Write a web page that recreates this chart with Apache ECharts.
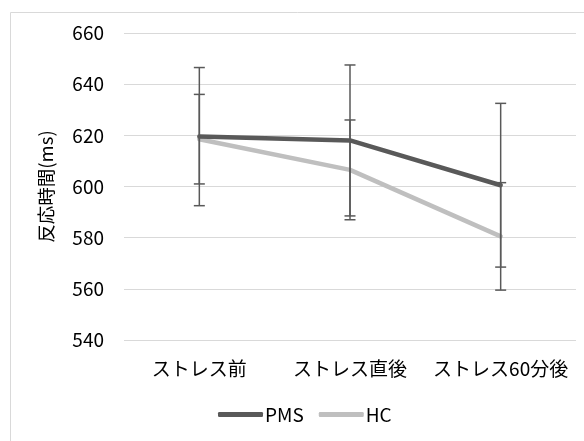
<!DOCTYPE html>
<html><head><meta charset="utf-8">
<script src="https://cdn.jsdelivr.net/npm/echarts@6/dist/echarts.min.js"></script>
<style>html,body{margin:0;padding:0;background:#fff}#c{width:584px;height:441px}</style>
</head><body><div id="c"></div>
<script>
const categories = ['ストレス前', 'ストレス直後', 'ストレス60分後'];
const pmsMean = [619.5, 618, 600.5];
const pmsSD = [27, 29.5, 32];
const hcMean = [618.5, 606.5, 580.5];
const hcSD = [17.5, 19.5, 21];
const yTicks = [540, 560, 580, 600, 620, 640, 660];

const FONT = '"Noto Sans CJK JP", "Noto Sans", sans-serif';
const chart = echarts.init(document.getElementById('c'));

function errData(mean, sd) { return mean.map((m, i) => [i, m - sd[i], m + sd[i]]); }
function errRender(params, api) {
  const x = api.value(0);
  const lo = api.coord([x, api.value(1)]);
  const hi = api.coord([x, api.value(2)]);
  const hw = 5.5;
  const st = { stroke: '#595959', lineWidth: 1.5 };
  return { type: 'group', children: [
    { type: 'line', shape: { x1: hi[0], y1: hi[1], x2: lo[0], y2: lo[1] }, style: st },
    { type: 'line', shape: { x1: hi[0] - hw, y1: hi[1], x2: hi[0] + hw, y2: hi[1] }, style: st },
    { type: 'line', shape: { x1: lo[0] - hw, y1: lo[1], x2: lo[0] + hw, y2: lo[1] }, style: st }
  ]};
}

chart.setOption({
  animation: false,
  graphic: [{ type: 'rect', shape: { x: 10.5, y: 12.5, width: 600, height: 500 }, style: { fill: 'none', stroke: '#d9d9d9', lineWidth: 1 }, silent: true }],
  grid: { left: 124, right: 8, top: 33, bottom: 101 },
  xAxis: {
    type: 'category', data: categories, boundaryGap: true,
    axisLine: { show: false }, axisTick: { show: false },
    axisLabel: { color: '#000', fontSize: 19, fontFamily: FONT, margin: 19, interval: 0, hideOverlap: false }
  },
  yAxis: {
    type: 'value', min: yTicks[0], max: yTicks[yTicks.length - 1], interval: 20,
    name: '反応時間(ms)', nameLocation: 'middle', nameGap: 69, nameRotate: 90,
    nameTextStyle: { color: '#000', fontSize: 18.5, fontFamily: FONT },
    axisLine: { show: false }, axisTick: { show: false },
    axisLabel: { color: '#000', fontSize: 19, fontFamily: FONT, margin: 20 },
    splitLine: { lineStyle: { color: '#d9d9d9', width: 1 } }
  },
  legend: {
    top: 405, left: 218, itemWidth: 45, itemHeight: 5, itemGap: 15, padding: 0,
    textStyle: { color: '#000', fontSize: 19, fontFamily: FONT, padding: [0, 0, 0, -3] },
    data: [
      { name: 'PMS', icon: 'roundRect', itemStyle: { color: '#595959' } },
      { name: 'HC', icon: 'roundRect', itemStyle: { color: '#bfbfbf' } }
    ]
  },
  series: [
    { name: 'PMS', type: 'line', data: pmsMean, symbol: 'none', z: 3,
      lineStyle: { color: '#595959', width: 4.5, cap: 'round' }, itemStyle: { color: '#595959' } },
    { name: 'HC', type: 'line', data: hcMean, symbol: 'none', z: 2,
      lineStyle: { color: '#bfbfbf', width: 4.5, cap: 'round' }, itemStyle: { color: '#bfbfbf' } },
    { type: 'custom', renderItem: errRender, data: errData(pmsMean, pmsSD), z: 4, silent: true },
    { type: 'custom', renderItem: errRender, data: errData(hcMean, hcSD), z: 4, silent: true }
  ]
});
</script></body></html>
